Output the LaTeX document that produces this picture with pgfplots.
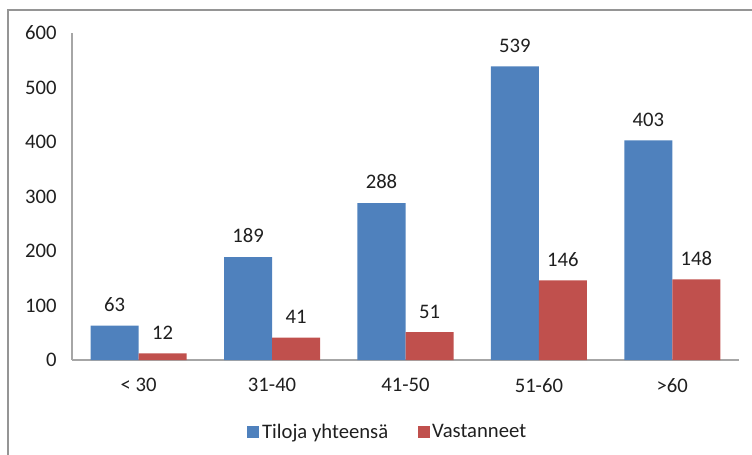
\documentclass[border=0pt]{standalone}
\usepackage{fontspec}
\setmainfont{Carlito}
\usepackage{pgfplots}
\pgfplotsset{compat=1.18}

\definecolor{xlblue}{HTML}{4F81BD}
\definecolor{xlred}{HTML}{C0504D}
\definecolor{xlaxis}{HTML}{A6A6A6}
\definecolor{xltext}{HTML}{1F1F1F}

\begin{document}
\begin{tikzpicture}
\path[use as bounding box] (-54pt,-70.5pt) rectangle (510pt,270pt);
\draw[xlaxis!90!black, line width=1.5pt] (-48pt,-80pt) -- (-48pt,262.5pt) -- (520pt,262.5pt);
\begin{axis}[
  at={(0,0)}, anchor=south west,
  scale only axis,
  width=500.25pt, height=245.25pt,
  ybar=0pt,
  bar width=36pt,
  xmin=-0.5, xmax=4.5,
  ymin=0, ymax=600,
  xtick=data,
  xticklabels={{< 30},31-40,41-50,51-60,>60},
  ytick={0,100,...,600},
  major tick length=0pt,
  axis x line*=bottom,
  axis y line*=left,
  axis line style={xlaxis, line width=0.9pt, -},
  /pgf/number format/assume math mode=true,
  tick label style={font=\fontsize{15.5}{18}\selectfont, text=xltext},
  yticklabel style={xshift=-8pt},
  xticklabel style={yshift=-10pt},
  nodes near coords,
  every node near coord/.append style={font=\fontsize{15.5}{18}\selectfont, text=xltext, yshift=7pt},
  legend columns=2,
  legend style={draw=none, fill=none, at={(0.474,0)}, anchor=center, yshift=-54pt,
    font=\fontsize{15.5}{18}\selectfont, text=xltext,
    /tikz/every even column/.append style={column sep=20pt}},
  legend image code/.code={\fill[#1] (0pt,-4.5pt) rectangle (9pt,4.5pt);},
]
\addplot[draw=none, fill=xlblue] coordinates {(0,63) (1,189) (2,288) (3,539) (4,403)};
\addplot[draw=none, fill=xlred] coordinates {(0,12) (1,41) (2,51) (3,146) (4,148)};
\legend{Tiloja yhteensä, Vastanneet}
\end{axis}
\end{tikzpicture}
\end{document}
